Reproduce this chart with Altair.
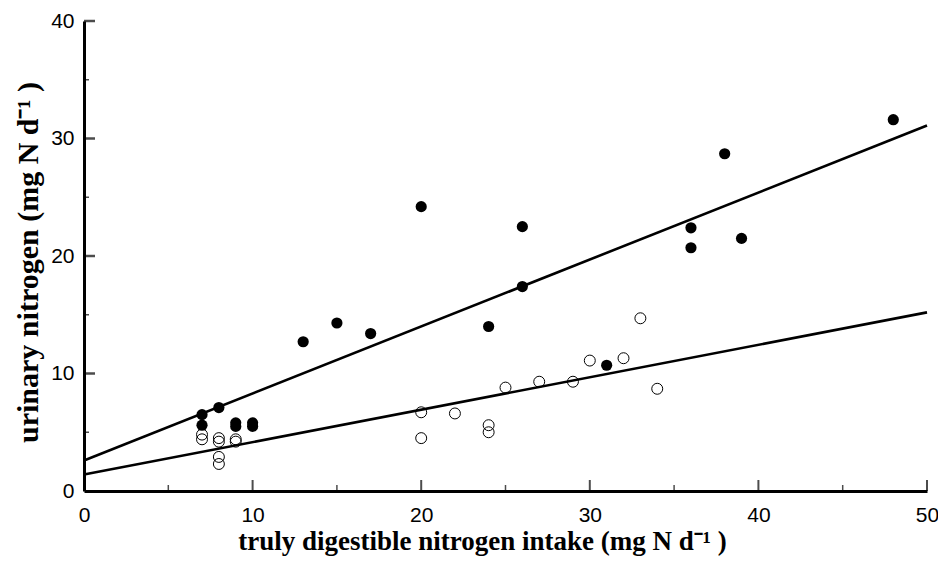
import altair as alt
import pandas as pd

# Data
filled_x = [7, 7, 8, 9, 9, 10, 10, 13, 15, 17, 20, 24, 26, 26, 31, 36, 36, 38, 39, 48]
filled_y = [6.5, 5.6, 7.1, 5.5, 5.8, 5.5, 5.8, 12.7, 14.3, 13.4, 24.2, 14.0, 22.5, 17.4, 10.7, 22.4, 20.7, 28.7, 21.5, 31.6]

open_x = [7, 7, 8, 8, 8, 8, 9, 9, 20, 20, 22, 24, 24, 25, 27, 29, 30, 32, 33, 34]
open_y = [4.8, 4.4, 4.5, 4.2, 2.9, 2.3, 4.4, 4.2, 6.7, 4.5, 6.6, 5.6, 5.0, 8.8, 9.3, 9.3, 11.1, 11.3, 14.7, 8.7]

line_names = ["filled", "open"]
line_intercepts = [2.6, 1.4]
line_slopes = [0.57, 0.276]
line_x_ends = [0, 50]

x_labels = [0, 10, 20, 30, 40, 50]
y_labels = [0, 10, 20, 30, 40]
x_major = [10, 20, 30, 40, 50]
x_minor = [5, 15, 25, 35, 45]
y_major = [10, 20, 30, 40]
y_minor = [5, 15, 25, 35]

x_title = "truly digestible nitrogen intake (mg N d\u207b\u00b9 )"
y_title = "urinary nitrogen (mg N d\u207b\u00b9 )"

filled_df = pd.DataFrame({"x": filled_x, "y": filled_y})
open_df = pd.DataFrame({"x": open_x, "y": open_y})
line_rows = []
for n, b, m in zip(line_names, line_intercepts, line_slopes):
    for xe in line_x_ends:
        line_rows.append({"g": n, "x": xe, "y": b + m * xe})
line_df = pd.DataFrame(line_rows)

xs = alt.Scale(domain=[0, 50], nice=False, zero=False)
ys = alt.Scale(domain=[0, 40], nice=False, zero=False)

x_axis = alt.Axis(
    values=x_labels, ticks=False, grid=False,
    domainWidth=3, domainColor="black",
    labelFont="Liberation Sans", labelFontWeight="normal", labelFontSize=21,
    labelColor="black", labelPadding=13, labelFlush=False,
    title=x_title,
    titleFont="Liberation Serif", titleFontWeight="bold", titleFontSize=27,
    titleColor="black", titleX=398, titleY=50, titleBaseline="middle",
)
y_axis = alt.Axis(
    values=y_labels, ticks=False, grid=False,
    domainWidth=3, domainColor="black",
    labelFont="Liberation Sans", labelFontWeight="normal", labelFontSize=21,
    labelColor="black", labelPadding=10, labelFlush=False,
    title=y_title,
    titleFont="Liberation Serif", titleFontWeight="bold", titleFontSize=30,
    titleColor="black", titleX=-56, titleY=241, titleBaseline="middle",
)

base_lines = alt.Chart(line_df).mark_line(color="black", strokeWidth=2.6).encode(
    x=alt.X("x:Q", scale=xs, axis=x_axis),
    y=alt.Y("y:Q", scale=ys, axis=y_axis),
    detail="g:N",
)

filled_pts = alt.Chart(filled_df).mark_point(
    filled=True, shape="circle", size=125, color="black", opacity=1
).encode(x=alt.X("x:Q", scale=xs), y=alt.Y("y:Q", scale=ys))

open_pts = alt.Chart(open_df).mark_point(
    filled=False, shape="circle", size=120, color="black", strokeWidth=1, opacity=1
).encode(x=alt.X("x:Q", scale=xs), y=alt.Y("y:Q", scale=ys))

xmaj_df = pd.DataFrame({"v": x_major})
xmin_df = pd.DataFrame({"v": x_minor})
ymaj_df = pd.DataFrame({"v": y_major})
ymin_df = pd.DataFrame({"v": y_minor})

xmaj_ticks = alt.Chart(xmaj_df).mark_tick(
    orient="vertical", size=11, thickness=2, color="black", yOffset=-5.5
).encode(x=alt.X("v:Q", scale=xs), y=alt.datum(0, scale=ys))
xmin_ticks = alt.Chart(xmin_df).mark_tick(
    orient="vertical", size=6, thickness=1.5, color="black", yOffset=-3
).encode(x=alt.X("v:Q", scale=xs), y=alt.datum(0, scale=ys))
ymaj_ticks = alt.Chart(ymaj_df).mark_tick(
    orient="horizontal", size=11, thickness=2.5, color="black", xOffset=5.5
).encode(y=alt.Y("v:Q", scale=ys), x=alt.datum(0, scale=xs))
ymin_ticks = alt.Chart(ymin_df).mark_tick(
    orient="horizontal", size=5, thickness=1.5, color="black", xOffset=2.5
).encode(y=alt.Y("v:Q", scale=ys), x=alt.datum(0, scale=xs))

chart = alt.layer(
    base_lines, open_pts, filled_pts, xmaj_ticks, xmin_ticks, ymaj_ticks, ymin_ticks
).properties(
    width=843, height=470,
    autosize=alt.AutoSizeParams(type="none"),
    padding={"left": 76, "top": 13, "right": 11, "bottom": 66},
    background="white",
).configure_view(stroke=None)

chart.save("out.html", embed_options={"renderer": "svg", "actions": False})
